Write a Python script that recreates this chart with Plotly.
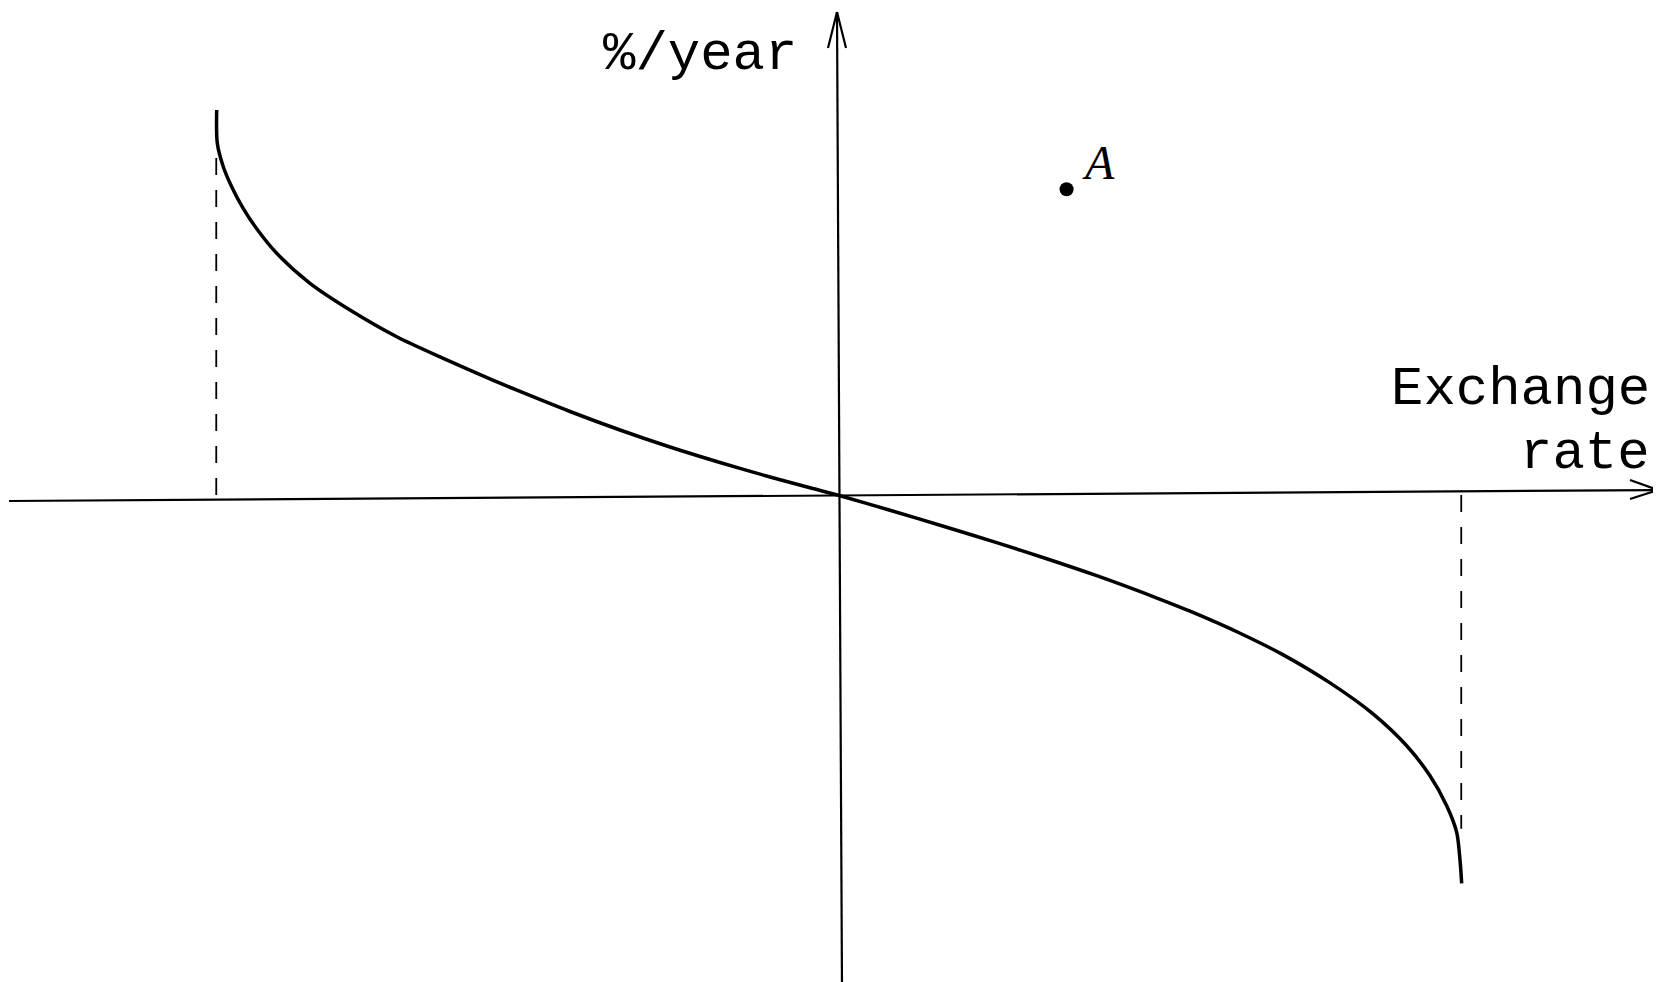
import plotly.graph_objects as go

# Curve: %/year vs. exchange rate (arbitrary units; asymptotes at +/-1)
curve_x = [-0.9973, -0.9963, -0.9867, -0.9732, -0.9545, -0.9330, -0.9009, -0.8474, -0.7831,
           -0.7081, -0.6333, -0.5529, -0.5100, -0.4297, -0.3494, -0.2691, -0.1888, -0.1084,
           -0.0442, 0.0, 0.0843, 0.1754, 0.2557, 0.3361, 0.4164, 0.5153, 0.5663, 0.6466,
           0.7161, 0.7912, 0.8607, 0.9144, 0.9518, 0.9786, 0.9947, 1.0000, 1.0027]
curve_y = [0.9923, 0.9064, 0.8461, 0.7946, 0.7379, 0.6861, 0.6229, 0.5456, 0.4768,
           0.4080, 0.3523, 0.2956, 0.2668, 0.2152, 0.1675, 0.1237, 0.0838, 0.0464,
           0.0186, 0.0, -0.0392, -0.0830, -0.1229, -0.1642, -0.2080, -0.2668, -0.2995, -0.3562,
           -0.4121, -0.4843, -0.5647, -0.6464, -0.7237, -0.8010, -0.8696, -0.9407, -1.0008]

# Bounds (dashed verticals)
bound_x = [-0.998, 1.002]
bound_top = [0.90, -0.86]

# Point A
point_x = [0.368]
point_y = [0.788]
point_label = ["A"]

# page geometry (figure div sits 8px inside the page body)
OFF = 8
W, H = 1661 - OFF, 982 - OFF
X0, XS = 837.5, 622.5   # origin (page px), px per unit
Y0, YS = 495.0, 388.0


def px(x):
    return (x - OFF) / W


def py(y):
    return 1 - (y - OFF) / H


xrange_ = [(OFF - X0) / XS, (OFF + W - X0) / XS]
yrange_ = [(Y0 - (OFF + H)) / YS, (Y0 - OFF) / YS]

fig = go.Figure()

for bx, bt in zip(bound_x, bound_top):
    fig.add_trace(go.Scatter(x=[bx, bx], y=[0, bt], mode="lines",
                             line=dict(color="black", width=1.8, dash="17px,15px"),
                             showlegend=False, hoverinfo="skip"))

fig.add_trace(go.Scatter(x=curve_x, y=curve_y, mode="lines",
                         line=dict(color="black", width=3.5, shape="spline", smoothing=0.8),
                         showlegend=False))

fig.add_trace(go.Scatter(x=point_x, y=point_y, mode="markers",
                         marker=dict(color="black", size=14),
                         showlegend=False))

shapes = []
axis_style = dict(color="black", width=2.2)
# horizontal axis (slightly tilted as in the scan) with open arrowhead
shapes.append(dict(type="line", xref="paper", yref="paper",
                   x0=px(9), y0=py(501), x1=px(1658), y1=py(490), line=axis_style))
shapes.append(dict(type="line", xref="paper", yref="paper",
                   x0=px(1630), y0=py(480), x1=px(1658), y1=py(490), line=axis_style))
shapes.append(dict(type="line", xref="paper", yref="paper",
                   x0=px(1630), y0=py(499), x1=px(1658), y1=py(490), line=axis_style))
# vertical axis with open arrowhead
shapes.append(dict(type="line", xref="paper", yref="paper",
                   x0=px(842), y0=py(990), x1=px(837), y1=py(12), line=axis_style))
shapes.append(dict(type="line", xref="paper", yref="paper",
                   x0=px(828), y0=py(48), x1=px(837), y1=py(12), line=axis_style))
shapes.append(dict(type="line", xref="paper", yref="paper",
                   x0=px(846), y0=py(48), x1=px(837), y1=py(12), line=axis_style))

mono = dict(family="Liberation Mono, Courier New, monospace", size=54, color="black")
annotations = [
    dict(text="%/year", xref="paper", yref="paper", x=px(700), y=py(55),
         xanchor="center", yanchor="middle", showarrow=False, font=mono),
    dict(text="Exchange", xref="paper", yref="paper", x=px(1652), y=py(389),
         xanchor="right", yanchor="middle", showarrow=False, font=mono),
    dict(text="rate", xref="paper", yref="paper", x=px(1652), y=py(453),
         xanchor="right", yanchor="middle", showarrow=False, font=mono),
    dict(text="<i>" + point_label[0] + "</i>", x=point_x[0], y=point_y[0],
         xref="x", yref="y", xshift=32, yshift=27, xanchor="center", yanchor="middle",
         showarrow=False,
         font=dict(family="Liberation Serif, Times New Roman, serif", size=48, color="black")),
]

fig.update_layout(
    width=W, height=H,
    margin=dict(l=0, r=0, t=0, b=0),
    paper_bgcolor="white", plot_bgcolor="white",
    xaxis=dict(range=xrange_, visible=False, fixedrange=True),
    yaxis=dict(range=yrange_, visible=False, fixedrange=True),
    shapes=shapes, annotations=annotations, showlegend=False,
)

fig.write_html("out.html")
